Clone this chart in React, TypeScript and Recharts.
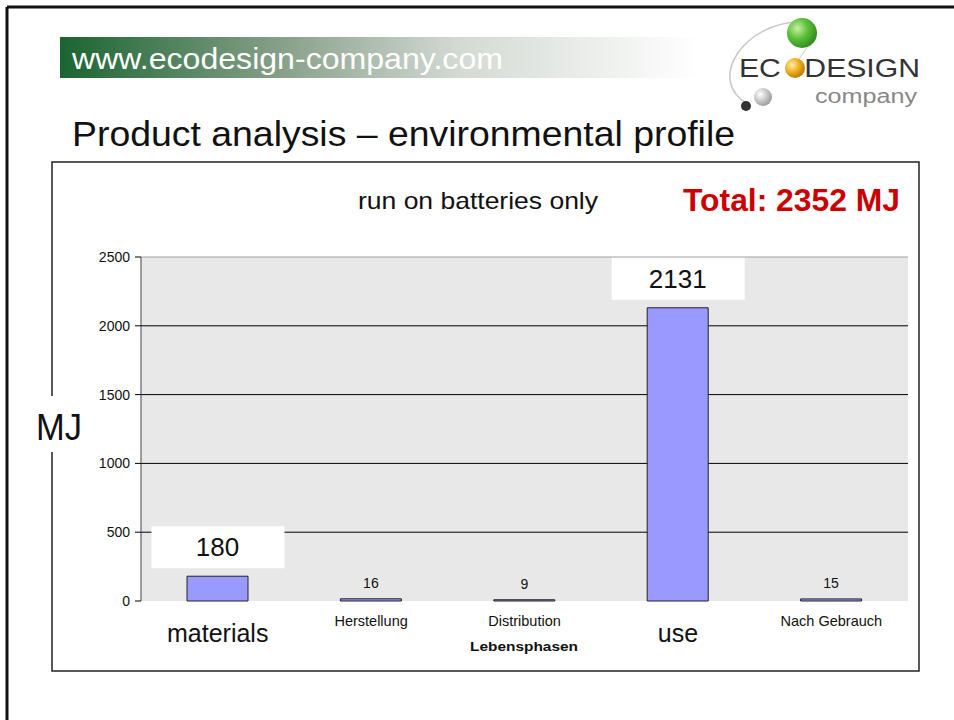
import React from "react";
import { BarChart, Bar, XAxis, YAxis, CartesianGrid, ReferenceLine, LabelList } from "recharts";

// life cycle phases (mixed english / german as on the slide)
const phases = ["materials", "Herstellung", "Distribution", "use", "Nach Gebrauch"];
const energyMJ = [180, 16, 9, 2131, 15];
const yTicks = [0, 500, 1000, 1500, 2000, 2500];
const edgeTicks = [0, 1, 2, 3, 4, 5];
const bigPhases = ["materials", "use"];

const data = phases.map((p, i) => ({ phase: p, mj: energyMJ[i] }));

const FONT = "'Liberation Sans', Arial, Helvetica, sans-serif";

function PhaseTick({ x, y, payload }: any) {
  const big = bigPhases.includes(payload.value);
  return (
    <text
      x={x}
      y={y + (big ? 32 : 20)}
      textAnchor="middle"
      dominantBaseline="central"
      fontFamily={FONT}
      fontSize={big ? 25 : 14.5}
      fill="#111"
    >
      {payload.value}
    </text>
  );
}

function ValueLabel({ x, y, width, value }: any) {
  const cx = x + width / 2;
  if (value > 100) {
    return (
      <g>
        <rect x={cx - 66} y={y - 50} width={133} height={42} fill="#fff" />
        <text x={cx} y={y - 29} textAnchor="middle" dominantBaseline="central" fontFamily={FONT} fontSize={26} fill="#111">
          {value}
        </text>
      </g>
    );
  }
  return (
    <text x={cx} y={y - 16} textAnchor="middle" dominantBaseline="central" fontFamily={FONT} fontSize={14} fill="#111">
      {value}
    </text>
  );
}

function Slide() {
  return (
    <svg width={954} height={720} style={{ position: "absolute", left: 0, top: 0, pointerEvents: "none" }}>
      <defs>
        <linearGradient id="banner" x1="0" y1="0" x2="1" y2="0">
          <stop offset="0" stopColor="#1b6531" />
          <stop offset="0.35" stopColor="#88a18a" />
          <stop offset="0.62" stopColor="#d3d9d3" />
          <stop offset="1" stopColor="#ffffff" />
        </linearGradient>
        <radialGradient id="green" cx="0.35" cy="0.35" r="0.7">
          <stop offset="0" stopColor="#c8f0a0" />
          <stop offset="0.5" stopColor="#5cbf3a" />
          <stop offset="1" stopColor="#2f8a1e" />
        </radialGradient>
        <radialGradient id="gold" cx="0.35" cy="0.35" r="0.7">
          <stop offset="0" stopColor="#fff0b0" />
          <stop offset="0.5" stopColor="#f0b020" />
          <stop offset="1" stopColor="#b87800" />
        </radialGradient>
        <radialGradient id="silver" cx="0.35" cy="0.35" r="0.7">
          <stop offset="0" stopColor="#ffffff" />
          <stop offset="1" stopColor="#999" />
        </radialGradient>
      </defs>

      {/* slide frame */}
      <line x1={7} y1={7} x2={954} y2={7} stroke="#111" strokeWidth={3} />
      <line x1={7} y1={7} x2={7} y2={720} stroke="#111" strokeWidth={3} />

      {/* header banner */}
      <rect x={60} y={37} width={640} height={41} fill="url(#banner)" />
      <text x={72} y={69} fontFamily={FONT} fontSize={29} fill="#fff" textLength={431} lengthAdjust="spacingAndGlyphs">
        www.ecodesign-company.com
      </text>

      {/* logo */}
      <path d="M 800 22 C 745 22, 705 80, 748 104" fill="none" stroke="#c8c8c8" strokeWidth={1.5} />
      <path d="M 808 46 L 797 62" fill="none" stroke="#d8d8d8" strokeWidth={1.2} />
      <circle cx={802} cy={33} r={15} fill="url(#green)" />
      <text x={739} y={77} fontFamily={FONT} fontSize={26} fill="#333" textLength={181} lengthAdjust="spacingAndGlyphs">
        EC<tspan fill="transparent">O</tspan>DESIGN
      </text>
      <circle cx={795} cy={68} r={10} fill="url(#gold)" />
      <text x={815} y={103} fontFamily={FONT} fontSize={20} fill="#888" textLength={102} lengthAdjust="spacingAndGlyphs">
        company
      </text>
      <circle cx={763} cy={97} r={9} fill="url(#silver)" />
      <circle cx={746} cy={106} r={5} fill="#333" />

      {/* title */}
      <text x={72} y={146} fontFamily={FONT} fontSize={35} fill="#111" textLength={663} lengthAdjust="spacingAndGlyphs">
        Product analysis – environmental profile
      </text>

      {/* chart frame */}
      <rect x={52} y={162} width={867} height={509} fill="none" stroke="#222" strokeWidth={1.5} />

      <text x={358} y={209} fontFamily={FONT} fontSize={24} fill="#111" textLength={240} lengthAdjust="spacingAndGlyphs">
        run on batteries only
      </text>
      <text x={683} y={211} fontFamily={FONT} fontSize={31} fontWeight="bold" fill="#cc0000" textLength={217} lengthAdjust="spacingAndGlyphs">
        Total: 2352 MJ
      </text>

      <rect x={28} y={396} width={60} height={56} fill="#fff" />
      <text x={36} y={440} fontFamily={FONT} fontSize={37} fill="#111" textLength={46} lengthAdjust="spacingAndGlyphs">
        MJ
      </text>

      <text x={524} y={651} textAnchor="middle" fontFamily={FONT} fontSize={13} fontWeight="bold" fill="#111" textLength={108} lengthAdjust="spacingAndGlyphs">
        Lebensphasen
      </text>
    </svg>
  );
}

export default function App() {
  return (
    <div style={{ position: "absolute", left: 0, top: 0, width: 954, height: 720, background: "#fff" }}>
      <div style={{ position: "absolute", left: 0, top: 0 }}>
        <BarChart width={954} height={720} data={data} margin={{ top: 257, right: 46, bottom: 69, left: 81 }}>
          <XAxis
            xAxisId="edge"
            type="number"
            domain={[0, 5]}
            ticks={edgeTicks}
            height={0}
            tick={false}
            tickSize={6}
            tickLine={{ stroke: "#000" }}
            axisLine={{ stroke: "#000" }}
          />
          <XAxis
            xAxisId="cat"
            dataKey="phase"
            height={50}
            interval={0}
            axisLine={false}
            tickLine={false}
            tickSize={0}
            tickMargin={0}
            tick={<PhaseTick />}
          />
          <YAxis
            width={60}
            domain={[0, 2500]}
            ticks={yTicks}
            interval={0}
            tickSize={6}
            tickMargin={5}
            tickLine={{ stroke: "#000" }}
            axisLine={{ stroke: "#444" }}
            tick={{ fontSize: 14, fill: "#111", fontFamily: FONT }}
          />
          <CartesianGrid
            xAxisId="cat"
            vertical={false}
            horizontalValues={[500, 1000, 1500, 2000]}
            stroke="#000"
            fill="#e8e8e8"
            fillOpacity={1}
          />
          <ReferenceLine xAxisId="cat" y={2500} stroke="#a0a0a0" />
          <ReferenceLine xAxisId="edge" x={5} stroke="#a0a0a0" />
          <Bar xAxisId="cat" dataKey="mj" fill="#9999ff" stroke="#222" strokeWidth={1} barSize={61} isAnimationActive={false}>
            <LabelList dataKey="mj" content={<ValueLabel />} />
          </Bar>
        </BarChart>
      </div>
      <Slide />
    </div>
  );
}
